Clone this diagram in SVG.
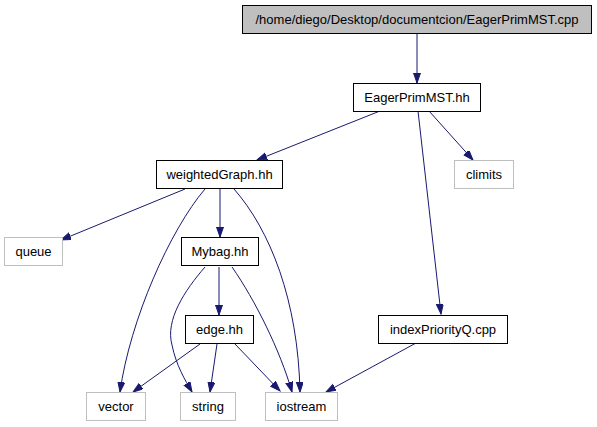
<svg xmlns="http://www.w3.org/2000/svg" width="597" height="427" viewBox="0 0 597 427">
<style>
text{font-family:"Liberation Sans",Arial,sans-serif;font-size:13px;text-anchor:middle;fill:#000}
.n rect{fill:#fff;stroke:#000;stroke-width:1}
.g rect{fill:#fff;stroke:#bfbfbf;stroke-width:1}
.root rect{fill:#bfbfbf;stroke:#000;stroke-width:1}
#edges path{fill:none;stroke:#191970;stroke-width:1;marker-end:url(#ah)}
</style>
<defs>
<marker id="ah" markerUnits="userSpaceOnUse" markerWidth="11" markerHeight="8" refX="10" refY="3.5" orient="auto">
<path d="M0,0 L10,3.5 L0,7 z" fill="#191970" stroke="#191970" stroke-width="1"/>
</marker>
</defs>
<rect width="597" height="427" fill="#fff"/>
<g id="edges">
<path d="M417,34 L417,83"/>
<path d="M380,111 L257,160"/>
<path d="M429,111 L473,160"/>
<path d="M418,111 L441,314"/>
<path d="M185,189 L61,240"/>
<path d="M205,189 C170,230 130,320 120,392"/>
<path d="M220,189 L220,237"/>
<path d="M234,189 C270,230 298,300 300,392"/>
<path d="M205,267 C185,290 165,320 172,345 C176,365 185,380 192,392"/>
<path d="M219,267 L219,315"/>
<path d="M232,267 C255,300 280,350 292,392"/>
<path d="M200,344 L133,392"/>
<path d="M217,344 L210,392"/>
<path d="M235,344 L280,391"/>
<path d="M416,343 L326,392"/>
</g>
<g id="root" class="root"><rect x="242.5" y="5.5" width="349" height="28"/><text x="417" y="24">/home/diego/Desktop/documentcion/EagerPrimMST.cpp</text></g>
<g id="eagerprim" class="n"><rect x="353.5" y="83.5" width="127" height="28"/><text x="417" y="102">EagerPrimMST.hh</text></g>
<g id="weightedgraph" class="n"><rect x="156.5" y="160.5" width="126" height="28"/><text x="219.5" y="179">weightedGraph.hh</text></g>
<g id="climits" class="g"><rect x="454.5" y="160.5" width="59" height="28"/><text x="484" y="179">climits</text></g>
<g id="queue" class="g"><rect x="4.5" y="237.5" width="58" height="28"/><text x="33.5" y="256">queue</text></g>
<g id="mybag" class="n"><rect x="181.5" y="237.5" width="77" height="28"/><text x="220" y="256">Mybag.hh</text></g>
<g id="edge" class="n"><rect x="185.5" y="315.5" width="68" height="28"/><text x="219.5" y="334">edge.hh</text></g>
<g id="indexpq" class="n"><rect x="378.5" y="315.5" width="129" height="28"/><text x="443" y="334">indexPriorityQ.cpp</text></g>
<g id="vector" class="g"><rect x="86.5" y="392.5" width="59" height="28"/><text x="116" y="411">vector</text></g>
<g id="string" class="g"><rect x="180.5" y="392.5" width="55" height="28"/><text x="208" y="411">string</text></g>
<g id="iostream" class="g"><rect x="265.5" y="392.5" width="72" height="28"/><text x="301.5" y="411">iostream</text></g>
</svg>
